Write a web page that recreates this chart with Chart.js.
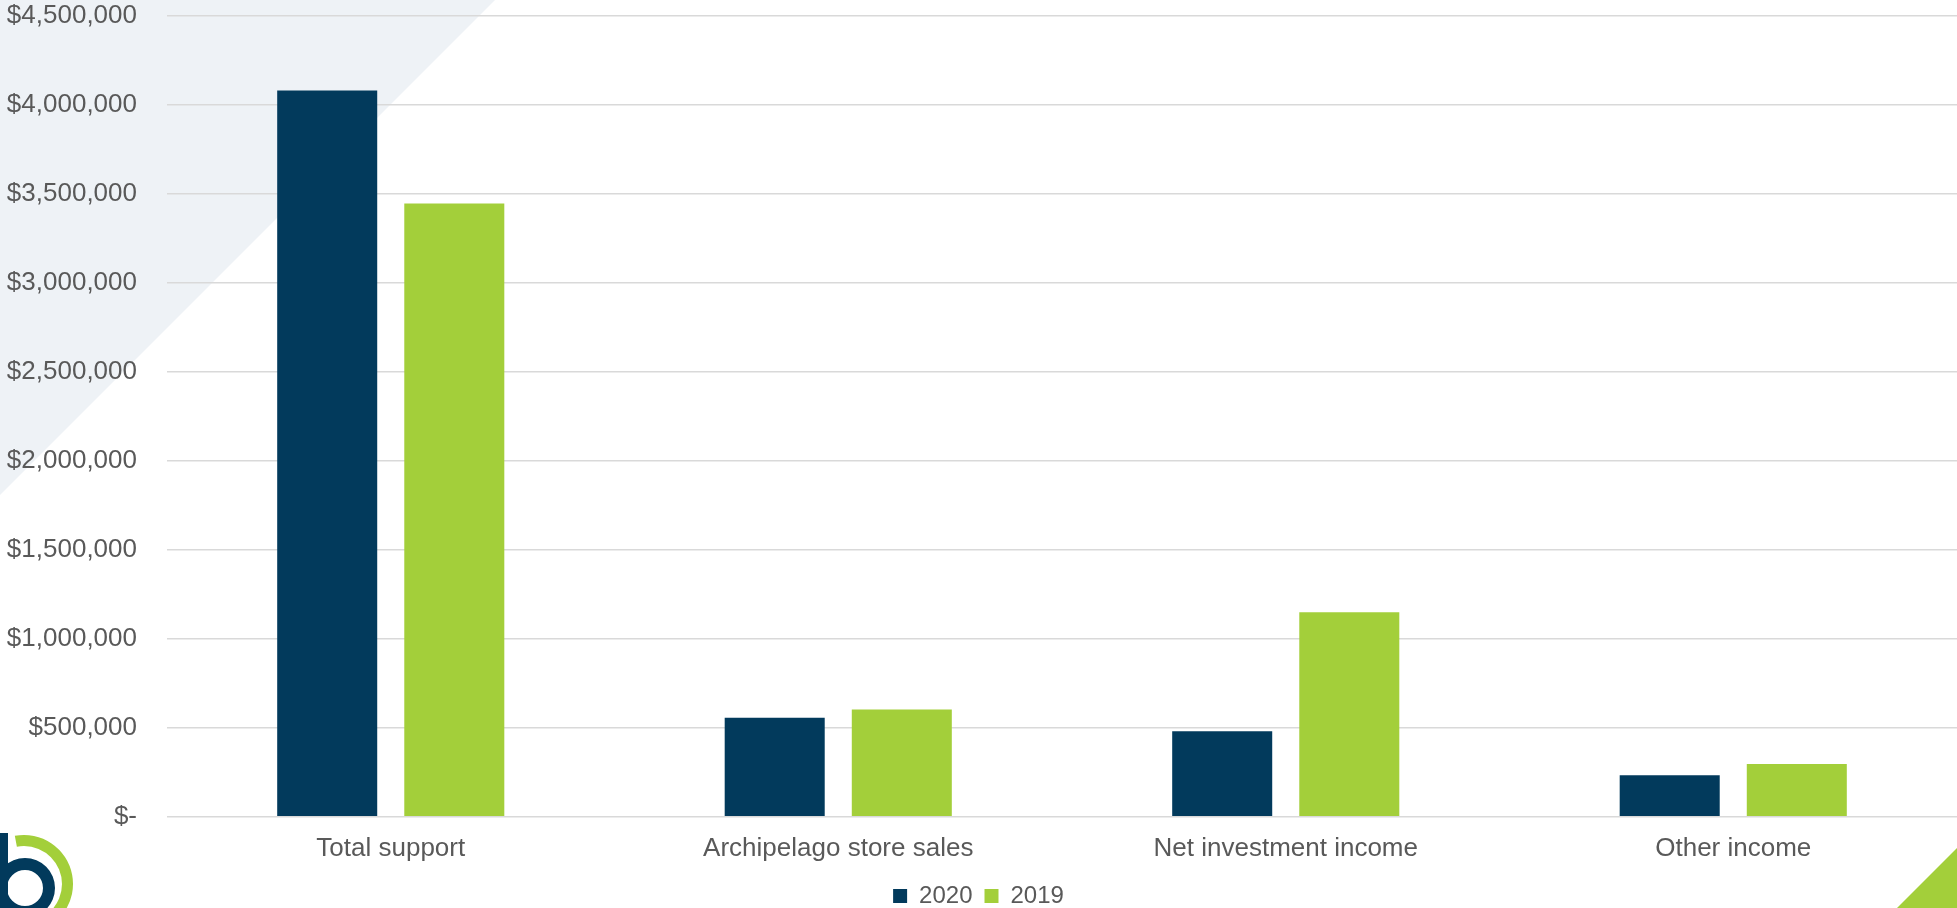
<!DOCTYPE html>
<html>
<head>
  <title>Revenue 2020 vs 2019</title>
  <script src="https://cdn.jsdelivr.net/npm/chart.js"></script>
  <style>
    html, body {
      margin: 0;
      padding: 0;
      background: #fff;
    }
    #wrap {
      position: relative;
      width: 1957px;
      height: 908px;
    }
  </style>
</head>
<body>
  <div id="wrap"><canvas id="revenueChart"></canvas></div>

  <script>
    var categories = ["Total support", "Archipelago store sales", "Net investment income", "Other income"];
    var values2020 = [4080000, 557000, 480000, 234000];
    var values2019 = [3444000, 602000, 1149000, 296000];
    var seriesNames = ["2020", "2019"];
    var yMax = 4500000;
    var yStep = 500000;

    var navy = "#023a5c";
    var green = "#a3cf3a";
    var textGray = "#595959";

    // slide decoration: pale triangle, green corner and the little logo
    var backdrop = {
      id: "backdrop",
      beforeDraw: function(chart) {
        var c = chart.ctx;
        var w = chart.width, h = chart.height;
        c.save();
        c.fillStyle = "#ffffff";
        c.fillRect(0, 0, w, h);

        c.fillStyle = "#eef2f6";
        c.beginPath();
        c.moveTo(0, 0);
        c.lineTo(495, 0);
        c.lineTo(0, 495);
        c.closePath();
        c.fill();

        c.fillStyle = green;
        c.beginPath();
        c.moveTo(w - 60, h);
        c.lineTo(w, h - 60);
        c.lineTo(w, h);
        c.closePath();
        c.fill();

        // logo "b"
        c.fillStyle = green;
        c.beginPath();
        c.arc(24, 884, 49, -Math.PI * 0.56, Math.PI * 0.5);
        c.arc(24, 884, 38, Math.PI * 0.5, -Math.PI * 0.56, true);
        c.closePath();
        c.fill();

        c.fillStyle = navy;
        c.beginPath();
        c.arc(25, 888, 30, 0, Math.PI * 2);
        c.arc(25, 888, 18, 0, Math.PI * 2, true);
        c.fill("evenodd");
        c.fillRect(0, 833, 8, 75);
        c.restore();
      }
    };

    var ctx = document.getElementById("revenueChart").getContext("2d");

    new Chart(ctx, {
      type: "bar",
      data: {
        labels: categories,
        datasets: [{
          label: seriesNames[0],
          data: values2020,
          backgroundColor: navy,
          categoryPercentage: 0.568,
          barPercentage: 0.787
        }, {
          label: seriesNames[1],
          data: values2019,
          backgroundColor: green,
          categoryPercentage: 0.568,
          barPercentage: 0.787
        }]
      },
      options: {
        responsive: true,
        maintainAspectRatio: false,
        animation: false,
        layout: {
          padding: { top: 0, right: 0, bottom: -10, left: 0 }
        },
        plugins: {
          legend: {
            position: "bottom",
            labels: {
              boxWidth: 14,
              boxHeight: 14,
              padding: 12,
              color: textGray,
              font: { family: "'Liberation Sans', Arial, sans-serif", size: 24 }
            }
          },
          tooltip: { enabled: false }
        },
        scales: {
          x: {
            grid: { display: false },
            border: { display: false },
            ticks: {
              color: textGray,
              padding: 8,
              font: { family: "'Liberation Sans', Arial, sans-serif", size: 26 }
            }
          },
          y: {
            min: 0,
            max: yMax,
            border: { display: false },
            grid: {
              color: "#d9d9d9",
              lineWidth: 1.5,
              tickLength: 30,
              tickColor: "rgba(0,0,0,0)"
            },
            ticks: {
              stepSize: yStep,
              padding: 0,
              color: textGray,
              font: { family: "'Liberation Sans', Arial, sans-serif", size: 26 },
              callback: function(value) {
                if (value === 0) return "$-";
                return "$" + value.toLocaleString("en-US");
              }
            },
            afterFit: function(scale) {
              scale.width = 167;
            }
          }
        }
      },
      plugins: [backdrop]
    });
  </script>
</body>
</html>
